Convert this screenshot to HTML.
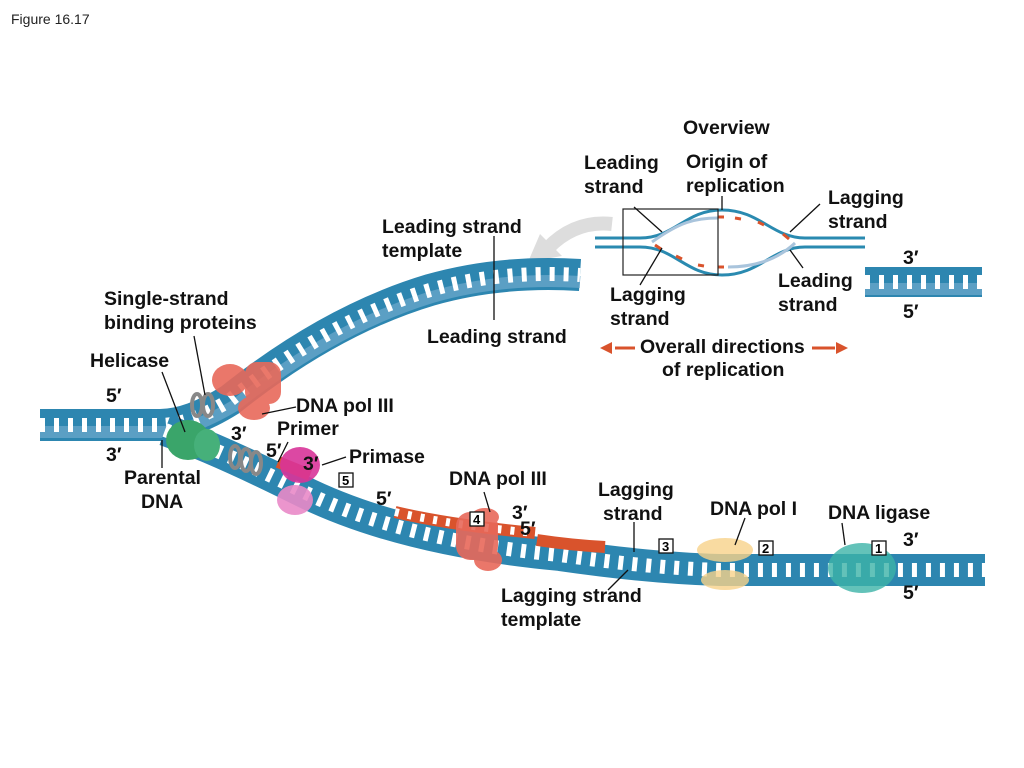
<!DOCTYPE html>
<html><head><style>
body{margin:0;background:#fff;}
svg{display:block;font-family:"Liberation Sans",sans-serif;}
.t{font-weight:bold;font-size:19.5px;fill:#111;}
</style></head><body>
<svg width="1024" height="768" viewBox="0 0 1024 768">
<text x="11" y="24" font-size="14" fill="#222">Figure 16.17</text>
<!-- grey arrow -->
<path d="M612 224 Q575 220 548 248" stroke="#ddd" stroke-width="14" fill="none"/>
<polygon points="528,262 562,256 540,234" fill="#ddd"/>
<!-- DNA arms -->
<g fill="none">
<path d="M40 425 L160 425 Q190 425 230 400 Q330 320 430 290 Q500 270 580 275" stroke="#2d86b0" stroke-width="32"/>
<path d="M40 432 L160 432 Q190 432 234 406 Q334 327 432 297 Q502 277 580 282" stroke="#5b9fc4" stroke-width="12"/>
<path d="M40 425 L160 425 Q190 425 230 400 Q330 320 430 290 Q500 270 580 275" stroke="#fff" stroke-width="14" stroke-dasharray="5 9"/>
<path d="M165 430 Q220 450 300 490 Q400 540 560 555 Q650 568 720 570 L985 570" stroke="#2d86b0" stroke-width="32"/>
<path d="M165 430 Q220 450 300 490 Q400 540 560 555 Q650 568 720 570 L985 570" stroke="#fff" stroke-width="14" stroke-dasharray="5 9"/>
<path d="M395 512 Q450 525 535 533" stroke="#d9532c" stroke-width="12"/>
<path d="M395 512 Q450 525 535 533" stroke="#fff" stroke-width="8" stroke-dasharray="4 9"/>
<path d="M537 540 Q570 545 605 547" stroke="#d9532c" stroke-width="12"/>
<path d="M278 462 L310 475" stroke="#d9532c" stroke-width="12"/>
<path d="M865 282 L982 282" stroke="#2d86b0" stroke-width="30"/>
<path d="M865 289 L982 289" stroke="#5b9fc4" stroke-width="12"/>
<path d="M865 282 L982 282" stroke="#fff" stroke-width="14" stroke-dasharray="5 9"/>
</g>
<!-- proteins -->
<ellipse cx="188" cy="440" rx="22" ry="20" fill="#3aa56a"/>
<ellipse cx="207" cy="445" rx="13" ry="16" fill="#46b07a"/>
<g fill="none" stroke="#888" stroke-width="4">
<ellipse cx="197" cy="405" rx="5" ry="11"/><ellipse cx="208" cy="405" rx="5" ry="11"/>
<ellipse cx="235" cy="457" rx="5" ry="11"/><ellipse cx="246" cy="460" rx="5" ry="11"/><ellipse cx="256" cy="463" rx="5" ry="11"/>
</g>
<g fill="#e8695a" opacity="0.9">
<ellipse cx="230" cy="380" rx="18" ry="16"/><rect x="245" y="362" width="36" height="42" rx="12"/><ellipse cx="254" cy="408" rx="16" ry="12"/>
<ellipse cx="300" cy="465" rx="20" ry="18" fill="#d9359a"/><ellipse cx="295" cy="500" rx="18" ry="15" fill="#e98ac8"/>
<rect x="456" y="512" width="42" height="48" rx="14"/><ellipse cx="488" cy="560" rx="14" ry="11"/><ellipse cx="485" cy="517" rx="14" ry="9"/>
</g>
<ellipse cx="725" cy="550" rx="28" ry="12" fill="#f7d28a" opacity="0.8"/><ellipse cx="725" cy="580" rx="24" ry="10" fill="#f7d28a" opacity="0.8"/>
<ellipse cx="862" cy="568" rx="34" ry="25" fill="#3cb3a8" opacity="0.8"/>
<!-- overview -->
<g fill="none" stroke="#2a8ab0" stroke-width="3">
<path d="M595 238 L640 238 C675 238 685 210 722 210 C760 210 772 238 805 238 L865 238"/>
<path d="M595 247 L640 247 C675 247 685 275 722 275 C760 275 772 247 805 247 L865 247"/>
</g>
<g fill="none" stroke="#a9c4dc" stroke-width="3">
<path d="M652 242 C680 222 695 218 718 218"/><path d="M728 267 C750 267 775 262 795 243"/>
</g>
<g stroke="#d9532c" stroke-width="3">
<path d="M655 245 L661 249M676 256 L682 259M698 265 L704 266M718 267 L724 267M735 218 L741 219M758 222 L764 225M783 234 L789 239M718 217 L724 217"/>
</g>
<rect x="623" y="209" width="95" height="66" fill="none" stroke="#222" stroke-width="1.2"/>
<g fill="#d9532c">
<path d="M615 348 L635 348" stroke="#d9532c" stroke-width="3"/><polygon points="600,348 612,342 612,354"/>
<path d="M812 348 L835 348" stroke="#d9532c" stroke-width="3"/><polygon points="848,348 836,342 836,354"/>
</g>
<!-- leader lines -->
<g stroke="#111" stroke-width="1.3" fill="none">
<path d="M494 236 L494 320"/><path d="M194 336 L205 395"/><path d="M162 372 L185 432"/><path d="M162 440 L162 468"/>
<path d="M296 407 L262 414"/><path d="M288 442 L278 462"/><path d="M346 457 L322 465"/>
<path d="M484 492 L490 512"/><path d="M634 522 L634 552"/><path d="M628 570 L608 590"/><path d="M745 518 L735 545"/><path d="M842 523 L845 545"/>
<path d="M634 207 L662 232"/><path d="M662 248 L640 285"/><path d="M820 204 L790 232"/><path d="M790 250 L803 268"/><path d="M722 196 L722 210"/>
</g>
<g fill="#fff" stroke="#111" stroke-width="1.3">
<rect x="339" y="473" width="14" height="14"/><rect x="470" y="512" width="14" height="14"/><rect x="659" y="539" width="14" height="14"/><rect x="759" y="541" width="14" height="14"/><rect x="872" y="541" width="14" height="14"/>
</g>
<g font-size="13" font-weight="bold">
<text x="342" y="485">5</text><text x="473" y="524">4</text><text x="662" y="551">3</text><text x="762" y="553">2</text><text x="875" y="553">1</text>
</g>
<g class="t">
<text x="683" y="134">Overview</text>
<text x="584" y="169">Leading</text><text x="584" y="193">strand</text>
<text x="686" y="168">Origin of</text><text x="686" y="192">replication</text>
<text x="828" y="204">Lagging</text><text x="828" y="228">strand</text>
<text x="382" y="233">Leading strand</text><text x="382" y="257">template</text>
<text x="610" y="301">Lagging</text><text x="610" y="325">strand</text>
<text x="778" y="287">Leading</text><text x="778" y="311">strand</text>
<text x="903" y="264">3′</text><text x="903" y="318">5′</text>
<text x="104" y="305">Single-strand</text><text x="104" y="329">binding proteins</text>
<text x="427" y="343">Leading strand</text>
<text x="640" y="353">Overall directions</text><text x="662" y="376">of replication</text>
<text x="90" y="367">Helicase</text>
<text x="106" y="402">5′</text><text x="106" y="461">3′</text>
<text x="296" y="412">DNA pol III</text>
<text x="231" y="440">3′</text><text x="277" y="435">Primer</text>
<text x="266" y="457">5′</text><text x="303" y="470">3′</text><text x="349" y="463">Primase</text>
<text x="124" y="484">Parental</text><text x="141" y="508">DNA</text>
<text x="376" y="505">5′</text>
<text x="449" y="485">DNA pol III</text>
<text x="512" y="519">3′</text><text x="520" y="535">5′</text>
<text x="598" y="496">Lagging</text><text x="603" y="520">strand</text>
<text x="710" y="515">DNA pol I</text>
<text x="828" y="519">DNA ligase</text>
<text x="903" y="546">3′</text><text x="903" y="599">5′</text>
<text x="501" y="602">Lagging strand</text><text x="501" y="626">template</text>
</g>
</svg>
</body></html>
